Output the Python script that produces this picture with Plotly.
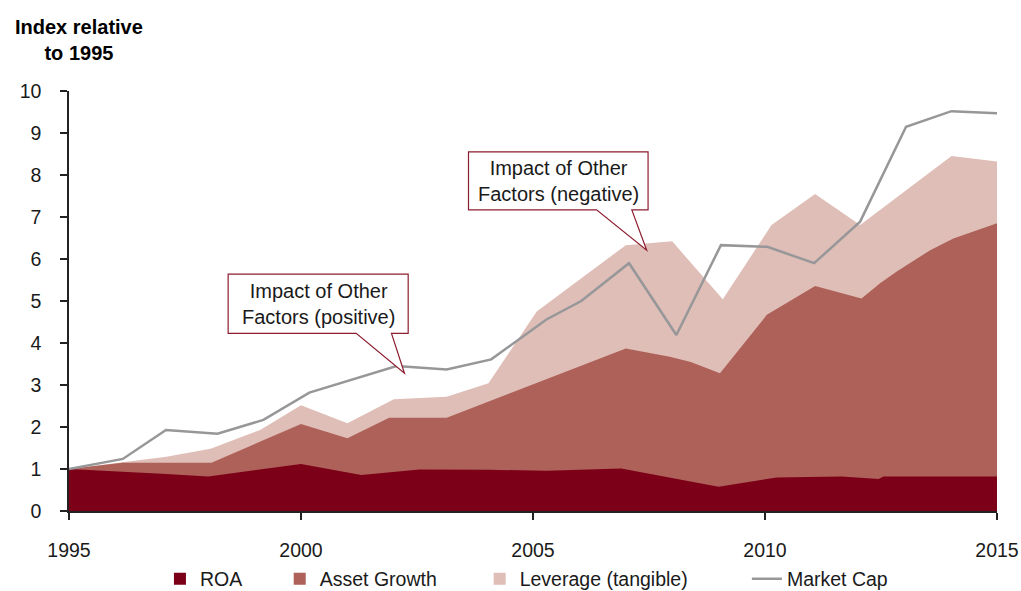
import plotly.graph_objects as go

# ---------------- data ----------------
roa_x = [1995.0, 1996.15, 1997.1, 1998.0, 2000.0, 2001.3, 2002.55, 2004.05, 2005.3,
         2006.9, 2009.0, 2010.25, 2011.65, 2012.45, 2012.55, 2015.0]
roa_y = [1.00, 0.94, 0.88, 0.82, 1.12, 0.86, 0.99, 0.98, 0.96,
         1.01, 0.58, 0.80, 0.82, 0.76, 0.82, 0.82]

growth_x = [1995.0, 1996.15, 1998.07, 2000.0, 2001.0, 2001.9, 2003.14, 2007.0, 2007.95,
            2008.4, 2009.03, 2010.04, 2011.08, 2012.08, 2012.48, 2012.84, 2013.56,
            2014.06, 2015.0]
growth_y = [1.00, 1.15, 1.15, 2.07, 1.73, 2.22, 2.22, 3.87, 3.67,
            3.55, 3.28, 4.67, 5.36, 5.06, 5.42, 5.70, 6.21,
            6.49, 6.85]

leverage_x = [1995.0, 1996.15, 1997.1, 1998.05, 1999.12, 2000.0, 2001.0, 2002.0, 2003.14,
              2004.04, 2005.08, 2007.0, 2008.0, 2009.09, 2010.14, 2011.08, 2012.05,
              2014.02, 2015.0]
leverage_y = [1.00, 1.15, 1.29, 1.48, 1.93, 2.52, 2.09, 2.66, 2.72,
              3.04, 4.75, 6.33, 6.42, 5.04, 6.81, 7.55, 6.81,
              8.45, 8.32]

cap_x = [1995.0, 1996.16, 1997.09, 1998.2, 1999.19, 2000.18, 2002.06, 2003.14, 2004.1,
         2005.29, 2006.04, 2007.07, 2008.09, 2009.05, 2010.05, 2011.06, 2012.05,
         2013.04, 2014.02, 2015.0]
cap_y = [1.00, 1.24, 1.93, 1.84, 2.17, 2.82, 3.45, 3.37, 3.61,
         4.56, 5.00, 5.90, 4.19, 6.33, 6.29, 5.90, 6.89,
         9.15, 9.52, 9.47]

series_names = ["ROA", "Asset Growth", "Leverage (tangible)", "Market Cap"]
x_ticks = [1995, 2000, 2005, 2010, 2015]
y_ticks = list(range(0, 11))

# ---------------- styles ----------------
C_ROA = "#7D0019"
C_GROWTH = "#AD6159"
C_LEV = "#DFBEB7"
C_CAP = "#97979A"
C_BOX = "#8C1D2E"
FONT = "Liberation Sans, Arial, sans-serif"
NB = "\u00a0"

fig = go.Figure()

# stacked look: draw cumulative tops back-to-front
fig.add_trace(go.Scatter(x=leverage_x, y=leverage_y, mode="lines", fill="tozeroy",
                         fillcolor=C_LEV, line=dict(width=0, color=C_LEV),
                         showlegend=False, hoverinfo="skip"))
fig.add_trace(go.Scatter(x=growth_x, y=growth_y, mode="lines", fill="tozeroy",
                         fillcolor=C_GROWTH, line=dict(width=0, color=C_GROWTH),
                         showlegend=False, hoverinfo="skip"))
fig.add_trace(go.Scatter(x=roa_x, y=roa_y, mode="lines", fill="tozeroy",
                         fillcolor=C_ROA, line=dict(width=0, color=C_ROA),
                         showlegend=False, hoverinfo="skip"))
fig.add_trace(go.Scatter(x=cap_x, y=cap_y, mode="lines",
                         line=dict(width=2.5, color=C_CAP),
                         name=series_names[3], legendrank=4))

# legend entries with square swatches
pads = [6, 7, 10]
for name, col, rank, pad in zip(series_names[:3], [C_ROA, C_GROWTH, C_LEV], [1, 2, 3], pads):
    fig.add_trace(go.Scatter(x=[None], y=[None], mode="markers",
                             marker=dict(symbol="square", size=12, color=col),
                             name=name + NB * pad, legendrank=rank))

# callout boxes
def callout(x0, x1, y0, y1, bx0, bx1, tx, ty):
    return (f"M{x0},{y1} L{x1},{y1} L{x1},{y0} L{bx1},{y0} L{tx},{ty} "
            f"L{bx0},{y0} L{x0},{y0} Z")

shapes = [
    dict(type="path", xref="x", yref="y",
         path=callout(1998.43, 2002.31, 4.23, 5.64, 2001.19, 2001.95, 2002.23, 3.28),
         fillcolor="white", line=dict(color=C_BOX, width=1.2), layer="above"),
    dict(type="path", xref="x", yref="y",
         path=callout(2003.61, 2007.48, 7.17, 8.55, 2006.37, 2007.13, 2007.45, 6.21),
         fillcolor="white", line=dict(color=C_BOX, width=1.2), layer="above"),
]

annotations = [
    dict(x=2000.38, y=4.93, xref="x", yref="y", text="Impact of Other<br>Factors (positive)",
         showarrow=False, font=dict(family=FONT, size=20, color="#1a1a1a"), align="center"),
    dict(x=2005.55, y=7.86, xref="x", yref="y", text="Impact of Other<br>Factors (negative)",
         showarrow=False, font=dict(family=FONT, size=20, color="#1a1a1a"), align="center"),
    dict(x=0.0103, y=1.183, xref="paper", yref="paper", xanchor="center", yanchor="top",
         text="<b>Index relative<br>to 1995</b>", showarrow=False, align="center",
         font=dict(family=FONT, size=20, color="#000000")),
]

fig.update_layout(
    template="none",
    width=1021, height=591,
    margin=dict(l=69, r=24, t=91, b=80, autoexpand=False),
    paper_bgcolor="white", plot_bgcolor="white",
    font=dict(family=FONT, size=19.5, color="#1a1a1a"),
    shapes=shapes, annotations=annotations,
    showlegend=True,
    legend=dict(orientation="h", x=0.098, xanchor="left", y=-0.162, yanchor="middle",
                font=dict(family=FONT, size=19.5, color="#1a1a1a"),
                bgcolor="rgba(0,0,0,0)", itemwidth=30, traceorder="normal"),
    hovermode=False,
)

fig.update_xaxes(range=[1995, 2015], tickvals=x_ticks, ticktext=[str(v) for v in x_ticks],
                 showgrid=False, zeroline=False, showline=True, linecolor="#222",
                 linewidth=1.5, ticks="outside", ticklen=7, tickwidth=1.5, tickcolor="#222",
                 ticklabelstandoff=14, automargin=False,
                 tickfont=dict(family=FONT, size=19.5, color="#1a1a1a"))
fig.update_yaxes(range=[0, 10], tickvals=y_ticks, showgrid=False, zeroline=False,
                 showline=True, linecolor="#222", linewidth=1.5, ticks="outside",
                 ticklen=7, tickwidth=1.5, tickcolor="#222", ticklabelstandoff=15,
                 automargin=False,
                 tickfont=dict(family=FONT, size=19.5, color="#1a1a1a"))

fig.write_html(
    "out.html",
    config={"displayModeBar": False, "staticPlot": False},
    post_script="document.body.style.margin='0px';document.body.style.overflow='hidden';",
)
